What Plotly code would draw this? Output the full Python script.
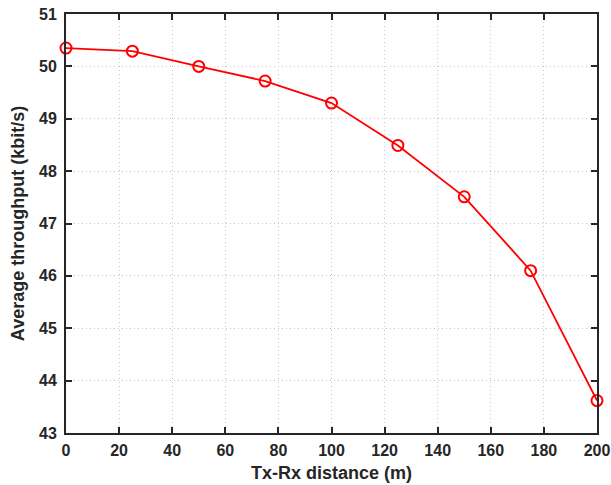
import plotly.graph_objects as go

distance = [0, 25, 50, 75, 100, 125, 150, 175, 200]
throughput = [50.35, 50.29, 50.0, 49.72, 49.30, 48.49, 47.51, 46.10, 43.62]
x_ticks = [0, 20, 40, 60, 80, 100, 120, 140, 160, 180, 200]
y_ticks = [43, 44, 45, 46, 47, 48, 49, 50, 51]

fig = go.Figure()
fig.add_trace(go.Scatter(
    x=distance, y=throughput, mode="lines+markers",
    line=dict(color="#ff0000", width=1.8),
    marker=dict(symbol="circle-open", size=11, color="#ff0000", line=dict(width=2)),
    showlegend=False, cliponaxis=False,
))

axis_common = dict(
    showline=True, linecolor="#262626", linewidth=2, mirror="allticks",
    ticks="inside", ticklen=6, tickwidth=2, tickcolor="#262626",
    showgrid=True, gridcolor="#c8c8c8", griddash="1px,3px", gridwidth=1,
    zeroline=False, automargin=False,
    tickfont=dict(family="Liberation Sans, Arial", size=16, color="#262626", weight="bold"),
)

fig.update_layout(
    width=611, height=485,
    margin=dict(l=66, r=14, t=14, b=52),
    paper_bgcolor="white", plot_bgcolor="white",
    xaxis=dict(range=[0, 200], tickvals=x_ticks, ticklabelstandoff=2,
               title=dict(text="Tx-Rx distance (m)", standoff=8,
                          font=dict(family="Liberation Sans, Arial", size=18, color="#262626", weight="bold")),
               **axis_common),
    yaxis=dict(range=[43, 51], tickvals=y_ticks, ticklabelstandoff=4,
               title=dict(text="Average throughput (kbit/s)", standoff=10,
                          font=dict(family="Liberation Sans, Arial", size=18, color="#262626", weight="bold")),
               **axis_common),
)

fig.write_html("out.html", config={"displayModeBar": False},
               post_script="document.body.style.margin='0';document.body.style.padding='0';")
